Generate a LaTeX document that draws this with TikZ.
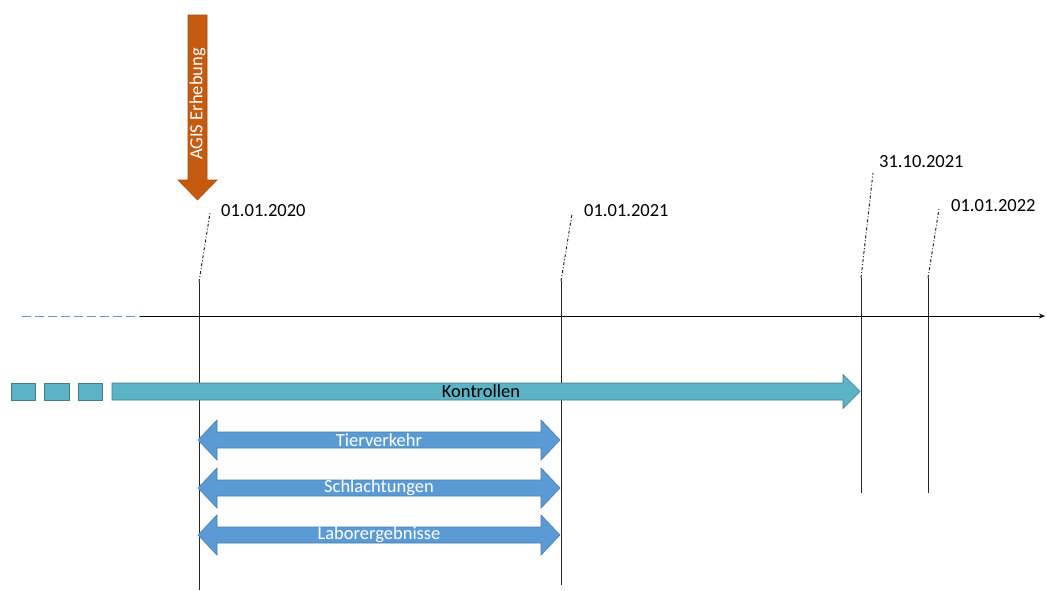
\documentclass[tikz,border=0pt]{standalone}
\usepackage{fontspec}
\setmainfont{Carlito}
\usetikzlibrary{arrows.meta}
\definecolor{agisorange}{RGB}{197,90,17}
\definecolor{kontrollteal}{RGB}{93,179,198}
\definecolor{periodblue}{RGB}{91,155,213}

\begin{document}
\begin{tikzpicture}[x=1pt,y=-1pt,font=\fontsize{18.5}{20}\selectfont,
    tick/.style={line width=1pt,black!85},
    leader/.style={black!85,line width=1pt,dash pattern=on 3pt off 2pt on 1pt off 2pt},
    period/.style={fill=periodblue,draw=periodblue!80!black,line width=0.6pt},
    kontrolle/.style={fill=kontrollteal,draw=kontrollteal!70!black,line width=0.6pt}]
  \useasboundingbox[fill=white] (0,0) rectangle (1047,590);
  % timeline
  \coordinate (past) at (22,316);
  \coordinate (start) at (140,316);
  \coordinate (end) at (1045,316);
  \draw[periodblue!80!gray,line width=0.9pt,dash pattern=on 9pt off 4pt] (past) -- (start);
  \draw[line width=1pt,-{Stealth[length=6pt,width=5pt]}] (start) -- (end);
  % dates with ticks and leaders
  \foreach \name/\x/\top/\bot/\lx/\ly/\ex/\ey/\date in {%
      d2020/199/282/590/221/211/210/213/01.01.2020,
      d2021/561/281/585/584/211/572/214/01.01.2021,
      d3110/861/278/493/879/162/873/173/31.10.2021,
      d2022/928/278/493/951/206/939/209/01.01.2022}{
    \coordinate (\name top) at (\x,\top);
    \coordinate (\name bot) at (\x,\bot);
    \coordinate (\name end) at (\ex,\ey);
    \draw[tick] (\name top) -- (\name bot);
    \draw[leader] (\name top) -- (\name end);
    \node[anchor=west,inner sep=0pt] (\name) at (\lx,\ly) {\date};
  }
  % AGIS arrow
  \path[fill=agisorange,draw=agisorange!85!black,line width=0.6pt]
    (188,15) -- (207,15) -- (207,180) -- (217,180) -- (197.5,200) -- (178,180) -- (188,180) -- cycle;
  \node[white,rotate=90,inner sep=0pt] (agis) at (197.5,104) {AGIS Erhebung};
  % Kontrollen
  \foreach \xa/\xb in {11/35,44/69,78/102}
    \path[kontrolle] (\xa,383) rectangle (\xb,400);
  \path[kontrolle] (112,383) -- (843,383) -- (843,374.5) -- (860,391.5) -- (843,408.5)
    -- (843,400) -- (112,400) -- cycle;
  \node (kontrollen) at (481,391.5) {Kontrollen};
  % data periods
  \foreach \yc/\lab in {440/Tierverkehr,488/Schlachtungen,535/Laborergebnisse}{
    \path[period] (198,\yc) -- (217,\yc-20) -- (217,\yc-8) -- (541,\yc-8) -- (541,\yc-20)
      -- (560,\yc) -- (541,\yc+20) -- (541,\yc+8) -- (217,\yc+8) -- (217,\yc+20) -- cycle;
    \node[white] (\lab) at (379,\yc) {\lab};
  }
\end{tikzpicture}
\end{document}
